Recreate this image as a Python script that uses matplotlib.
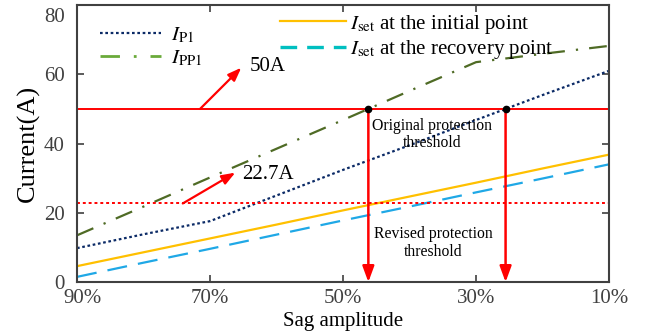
import numpy as np
import matplotlib
matplotlib.use("Agg")
import matplotlib.pyplot as plt
import matplotlib.transforms as mtransforms
from matplotlib.lines import Line2D

plt.rcParams['font.family'] = ['Liberation Serif', 'DejaVu Serif']
plt.rcParams['mathtext.fontset'] = 'stix'

# Sag amplitude (%) and currents (A)
sag = [90, 80, 70, 60, 50, 40, 30, 20, 10]
i_p1 = [9.8, 13.8, 17.6, 25.0, 32.4, 39.5, 46.8, 54.0, 61.0]
i_pp1 = [13.5, 21.8, 30.2, 38.5, 46.8, 55.2, 63.5, 65.9, 68.2]
iset_initial = [4.6, 8.6, 12.6, 16.6, 20.7, 24.7, 28.7, 32.8, 36.8]
iset_recovery = [1.5, 5.6, 9.6, 13.7, 17.8, 21.8, 25.9, 29.9, 34.0]

original_threshold = 50.0
revised_threshold = 22.7

xticks = [90, 70, 50, 30, 10]
xtick_labels = ['90%', '70%', '50%', '30%', '10%']
yticks = [0, 20, 40, 60, 80]

c_p1 = '#0B2A66'
c_pp1 = '#4F6B25'
c_pp1_leg = '#6AAA3A'
c_init = '#FFC000'
c_rec = '#1FA8E6'
c_rec_leg = '#00BFC0'
c_red = '#FF0000'
c_axis = '#404040'

fig = plt.figure(figsize=(6.55, 3.35), dpi=100)
ax = fig.add_axes([0.1176, 0.158, 0.8122, 0.827])

ax.plot(sag, i_p1, color=c_p1, lw=1.6, linestyle=(0, (1.2, 1.2)))
ax.plot(sag, i_pp1, color=c_pp1, lw=1.6, linestyle=(0, (8, 5, 1, 5)))
ax.plot(sag, iset_initial, color=c_init, lw=1.6)
ax.plot(sag, iset_recovery, color=c_rec, lw=1.6, linestyle=(0, (9, 5)))

ax.axhline(original_threshold, color=c_red, lw=1.4)
ax.axhline(revised_threshold, color=c_red, lw=1.4, linestyle=(0, (1.5, 1.5)))

# crossing points of the fault currents with the original threshold
x_cross_pp1 = float(np.interp(original_threshold, i_pp1, sag))
x_cross_p1 = float(np.interp(original_threshold, i_p1, sag))
for xc in (x_cross_pp1, x_cross_p1):
    ax.annotate('', xy=(xc, 0), xytext=(xc, original_threshold),
                arrowprops=dict(arrowstyle='-|>,head_width=0.35,head_length=0.95',
                                color=c_red, lw=1.8, shrinkA=0, shrinkB=0))
    ax.plot([xc], [original_threshold], 'o', color='black', ms=4.5, zorder=5)

ax.annotate('', xy=(65.3, 61.9), xytext=(71.5, original_threshold),
            arrowprops=dict(arrowstyle='-|>,head_width=0.3,head_length=0.8',
                            color=c_red, lw=1.6, shrinkA=0, shrinkB=0))
ax.text(64.0, 62.3, '50A', fontsize=15, va='center', ha='left')

ax.annotate('', xy=(66.2, 31.6), xytext=(74.1, revised_threshold),
            arrowprops=dict(arrowstyle='-|>,head_width=0.3,head_length=0.8',
                            color=c_red, lw=1.6, shrinkA=0, shrinkB=0))
ax.text(65.2, 31.2, '22.7A', fontsize=15, va='center', ha='left')

ax.text(36.6, 42.6, 'Original protection\nthreshold', fontsize=11.3,
        ha='center', va='center', linespacing=1.15)
ax.text(36.4, 11.3, 'Revised protection\nthreshold', fontsize=11.3,
        ha='center', va='center', linespacing=1.15)

ax.set_xlim(90, 10)
ax.set_ylim(0, 80)
ax.set_xticks(xticks)
ax.set_xticklabels(xtick_labels)
ax.set_yticks(yticks)
ax.tick_params(direction='in', top=True, right=True, labelsize=15,
               colors=c_axis, length=5, width=1.2)
ax.tick_params(axis='y', pad=9)
ax.tick_params(axis='x', pad=5)
for s in ax.spines.values():
    s.set_color(c_axis)
    s.set_linewidth(1.5)

# keep the corner labels clear of each other and of the figure edge
fig.canvas.draw()
ylabels = ax.get_yticklabels()
ylabels[-1].set_transform(ylabels[-1].get_transform() +
                          mtransforms.ScaledTranslation(0, -10 / 100, fig.dpi_scale_trans))
xlabels = ax.get_xticklabels()
xlabels[0].set_transform(xlabels[0].get_transform() +
                         mtransforms.ScaledTranslation(5 / 100, 0, fig.dpi_scale_trans))

ax.set_xlabel('Sag amplitude', fontsize=15, labelpad=3)
ax.set_ylabel('Current(A)', fontsize=19, labelpad=3)

h_left = [Line2D([], [], color=c_p1, lw=1.6, linestyle=(0, (1.2, 1.2))),
          Line2D([], [], color=c_pp1_leg, lw=2.0, linestyle=(0, (7, 5, 1, 5)))]
leg1 = ax.legend(h_left, [r'$I_{\rm P1}$', r'$I_{\rm PP1}$'], loc='upper left',
                 bbox_to_anchor=(0.028, 0.955), frameon=False, fontsize=15,
                 handlelength=2.9, handletextpad=0.5, labelspacing=0.15,
                 borderaxespad=0.0)
ax.add_artist(leg1)

h_right = [Line2D([], [], color=c_init, lw=1.6),
           Line2D([], [], color=c_rec_leg, lw=2.4, linestyle=(0, (5, 3)))]
ax.legend(h_right, [r'$I_{\rm set}$ at the initial point',
                    r'$I_{\rm set}$ at the recovery point'],
          loc='upper left', bbox_to_anchor=(0.365, 1.003), frameon=False,
          fontsize=15, handlelength=3.2, handletextpad=0.2,
          labelspacing=0.12, borderaxespad=0.0)

fig.savefig('out.png', dpi=100)
